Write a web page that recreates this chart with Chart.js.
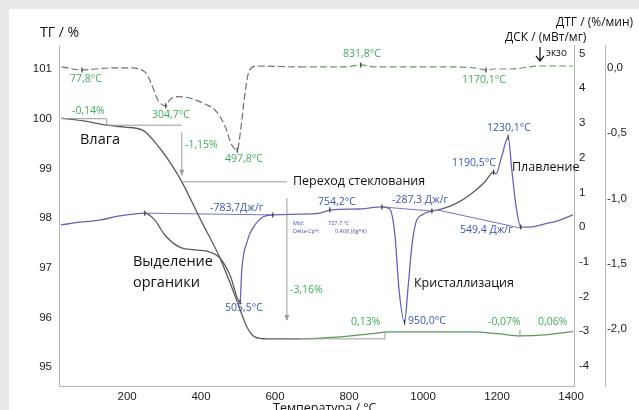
<!DOCTYPE html>
<html lang="ru">
<head>
<meta charset="utf-8">
<title>ТГ / ДТГ / ДСК</title>
<script src="https://cdn.jsdelivr.net/npm/chart.js@4.4.1/dist/chart.umd.min.js"></script>
<style>
  html, body { margin: 0; padding: 0; background: #e9e9e9; }
  #wrap { width: 639px; height: 410px; }
</style>
</head>
<body>
<div id="wrap"><canvas id="chart" width="639" height="410"></canvas></div>
<script>
// --- Datos ---
const xTicks = [200, 400, 600, 800, 1000, 1200, 1400];
const tgTicks = [95, 96, 97, 98, 99, 100, 101];
const dscTicks = [-4, -3, -2, -1, 0, 1, 2, 3, 4, 5];
const dtgTicks = [-2.0, -1.5, -1.0, -0.5, 0.0];

// ТГ, %
const tgTemp  = [23, 86, 145, 194, 242, 288, 324, 348, 402, 451, 486, 499, 524, 545, 578, 667, 775, 856, 910, 1127, 1208, 1262, 1329, 1397, 1405];
const tgValue = [100.01, 99.95, 99.87, 99.83, 99.77, 99.41, 99.03, 98.73, 97.92, 97.20, 96.55, 96.29, 95.81, 95.61, 95.57, 95.57, 95.61, 95.67, 95.71, 95.71, 95.67, 95.63, 95.65, 95.71, 95.72];

// ДТГ, %/мин
const dtgTemp  = [23, 78, 113, 153, 207, 248, 267, 283, 304.7, 315, 334, 369, 410, 437, 464, 483, 497.8, 507, 518, 531, 553, 667, 789, 831.8, 870, 1072, 1140, 1170.1, 1194, 1235, 1316, 1405];
const dtgValue = [0.008, -0.015, -0.008, 0, 0, -0.03, -0.13, -0.245, -0.29, -0.245, -0.22, -0.23, -0.276, -0.32, -0.44, -0.59, -0.63, -0.475, -0.21, -0.015, 0.015, 0.008, 0.008, 0.023, 0.008, 0.008, 0, -0.015, -0.008, -0.008, 0.015, 0.015];

// ДСК, мВт/мг
const dscTemp  = [21, 72, 126, 180, 248, 275, 302, 342, 383, 424, 451, 478, 505.5, 510, 526, 540, 567, 594, 667, 721, 748, 829, 889, 910, 924, 935, 950, 959, 970, 981, 997, 1024, 1051, 1091, 1127, 1167, 1190.5, 1197, 1213, 1230.1, 1240, 1251, 1264, 1289, 1329, 1370, 1405];
const dscValue = [0.06, 0.14, 0.20, 0.32, 0.40, 0.20, -0.23, -0.58, -0.66, -0.72, -0.89, -1.38, -2.16, -1.24, -0.37, -0.03, 0.29, 0.35, 0.37, 0.40, 0.49, 0.52, 0.58, 0.52, -0.23, -1.8, -2.74, -1.8, -0.52, 0.14, 0.35, 0.46, 0.52, 0.69, 0.93, 1.30, 1.58, 1.53, 2.05, 2.59, 1.64, 0.63, 0.0, 0.0, 0.09, 0.20, 0.35];

// Базовые линии интегрирования ДСК
const base1Temp = [248, 594];    const base1Value = [0.40, 0.35];
const base2Temp = [889, 1024];   const base2Value = [0.58, 0.46];
const base3Temp = [1040, 1264];  const base3Value = [0.49, -0.03];

// Отмеченные точки
const dscMarks = [248, 505.5, 594, 748, 889, 950, 1024, 1190.5, 1230.1, 1264];
const dtgMarks = [78, 304.7, 497.8, 831.8, 1170.1];
const dscGrayRanges = [[248, 505.5], [1051, 1190.5]];

// Ступени ТГ: [T1, T2, %1, %2]
const tgHLines = [[23, 145, 100.0, 100.0], [145, 348, 99.87, 99.87], [348, 632, 98.73, 98.73], [632, 897, 95.57, 95.57]];
const tgVLines = [[145, 145, 100.0, 99.87], [897, 897, 95.57, 95.71], [1262, 1262, 95.61, 95.75]];
const tgArrows = [[348, 348, 99.73, 98.87], [632, 632, 98.40, 95.95]];

// --- Estilos ---
const GRAY = '#5c5c5c';
const BLUE = '#6464b8';
const GREEN_LINE = '#5a9a55';
const GREEN_TXT = '#3fac5c';
const BLUE_TXT = '#3b56b2';
const AXIS = '#b4b4b4';
const FONT = "'Open Sans', 'Noto Sans', sans-serif";

// Надписи: [текст, x, y, цвет, размер]
const notes = [
  ['77,8°C', 70, 79, GREEN_TXT, 10.5],
  ['-0,14%', 72, 111, GREEN_TXT, 10.5],
  ['304,7°C', 152, 115, GREEN_TXT, 10.5],
  ['-1,15%', 185, 145, GREEN_TXT, 10.5],
  ['497,8°C', 225, 159, GREEN_TXT, 10.5],
  ['831,8°C', 343, 54, GREEN_TXT, 10.5],
  ['1170,1°C', 462, 80, GREEN_TXT, 10.5],
  ['-3,16%', 290, 290, GREEN_TXT, 10.5],
  ['0,13%', 351, 322, GREEN_TXT, 10.5],
  ['-0,07%', 488, 322, GREEN_TXT, 10.5],
  ['0,06%', 538, 322, GREEN_TXT, 10.5],
  ['-783,7Дж/г', 210, 208, BLUE_TXT, 10.5],
  ['754,2°C', 318, 202, BLUE_TXT, 10.5],
  ['-287,3 Дж/г', 392, 200, BLUE_TXT, 10.5],
  ['1190,5°C', 452, 163, BLUE_TXT, 10.5],
  ['1230,1°C', 487, 128, BLUE_TXT, 10.5],
  ['549,4 Дж/г', 460, 230, BLUE_TXT, 10.5],
  ['505,5°C', 225, 308, BLUE_TXT, 10.5],
  ['950,0°C', 408, 321, BLUE_TXT, 10.5],
  ['Mid:', 293, 223, BLUE_TXT, 5.5],
  ['727.7 °C', 328, 223, BLUE_TXT, 5.5],
  ['Delta-Cp*:', 293, 231, BLUE_TXT, 5.5],
  ['0.408 J/(g*K)', 335, 231, BLUE_TXT, 5.5],
  ['ТГ / %', 40, 33, '#111', 14],
  ['Влага', 80, 140, '#111', 14.5],
  ['Переход стеклования', 293, 181, '#111', 12.5],
  ['Выделение', 133, 262, '#111', 14.5],
  ['органики', 133, 283, '#111', 14.5],
  ['Кристаллизация', 414, 283, '#111', 12.5],
  ['Плавление', 512, 167, '#111', 12.5],
  ['ДТГ / (%/мин)', 556, 23, '#111', 12],
  ['ДСК / (мВт/мг)', 505, 38, '#111', 12],
  ['экзо', 546, 53, '#111', 10],
  ['Температура / °С', 273, 408, '#111', 12.5]
];

function toPoints(xs, ys) {
  return xs.map((x, i) => ({ x: x, y: ys[i] }));
}

function inRanges(t, ranges) {
  return ranges.some(r => t >= r[0] && t < r[1]);
}

function fixTicks(list) {
  return scale => { scale.ticks = list.map(v => ({ value: v })); };
}

const tickFont = { family: "'Liberation Sans', Arial, sans-serif", size: 11.5 };
const noGrid = { display: false, drawTicks: false };

// --- Plugin de dibujo ---
const sketchPlugin = {
  id: 'sketch',
  beforeDraw(chart) {
    const ctx = chart.ctx;
    ctx.save();
    ctx.fillStyle = '#e9e9e9';
    ctx.fillRect(0, 0, chart.width, chart.height);
    ctx.fillStyle = '#ffffff';
    ctx.fillRect(9, 9, chart.width - 9, chart.height - 9);
    ctx.restore();
  },
  afterDatasetsDraw(chart) {
    const ctx = chart.ctx;
    const x = chart.scales.x;
    const y = chart.scales.yTG;
    const seg = s => [x.getPixelForValue(s[0]), y.getPixelForValue(s[2]), x.getPixelForValue(s[1]), y.getPixelForValue(s[3])];

    ctx.save();
    ctx.strokeStyle = '#9a9a9a';
    ctx.lineWidth = 1;
    tgHLines.concat(tgVLines, tgArrows).forEach(s => {
      const p = seg(s);
      ctx.beginPath();
      ctx.moveTo(p[0], p[1]);
      ctx.lineTo(p[2], p[3]);
      ctx.stroke();
    });
    ctx.fillStyle = '#9a9a9a';
    tgArrows.forEach(s => {
      const p = seg(s);
      ctx.beginPath();
      ctx.moveTo(p[2], p[3] + 1);
      ctx.lineTo(p[2] - 2.5, p[3] - 5);
      ctx.lineTo(p[2] + 2.5, p[3] - 5);
      ctx.closePath();
      ctx.fill();
    });

    // Стрелка "экзо"
    ctx.strokeStyle = '#222';
    ctx.lineWidth = 1.3;
    ctx.beginPath();
    ctx.moveTo(540, 47);
    ctx.lineTo(540, 61);
    ctx.moveTo(536, 56);
    ctx.lineTo(540, 61);
    ctx.lineTo(544, 56);
    ctx.stroke();

    // Надписи
    ctx.textBaseline = 'middle';
    ctx.textAlign = 'left';
    notes.forEach(n => {
      ctx.fillStyle = n[3];
      ctx.font = n[4] + 'px ' + FONT;
      ctx.fillText(n[0], n[1], n[2]);
    });
    ctx.restore();
  }
};

// --- Gráfico ---
function renderChart() {
  const ctx = document.getElementById('chart').getContext('2d');
  const markStyle = marks => ({
    pointStyle: 'line',
    rotation: 90,
    pointRadius: c => (c.raw && marks.includes(c.raw.x)) ? 2.5 : 0,
    pointBorderColor: '#333',
    pointBorderWidth: 1.2,
    pointHoverRadius: 0
  });

  new Chart(ctx, {
    type: 'line',
    data: {
      datasets: [
        {
          label: 'ТГ',
          data: toPoints(tgTemp, tgValue),
          yAxisID: 'yTG',
          borderColor: GRAY,
          borderWidth: 1.3,
          pointRadius: 0,
          cubicInterpolationMode: 'monotone',
          segment: { borderColor: c => c.p0.parsed.x >= 620 ? GREEN_LINE : GRAY }
        },
        Object.assign({
          label: 'ДТГ',
          data: toPoints(dtgTemp, dtgValue),
          yAxisID: 'yDTG',
          borderColor: '#707070',
          borderWidth: 1.2,
          borderDash: [7, 3],
          cubicInterpolationMode: 'monotone',
          segment: { borderColor: c => c.p0.parsed.x >= 600 ? '#6a9a66' : '#707070' }
        }, markStyle(dtgMarks)),
        Object.assign({
          label: 'ДСК',
          data: toPoints(dscTemp, dscValue),
          yAxisID: 'yDSC',
          borderColor: BLUE,
          borderWidth: 1.3,
          cubicInterpolationMode: 'monotone',
          segment: { borderColor: c => inRanges(c.p0.parsed.x, dscGrayRanges) ? GRAY : BLUE }
        }, markStyle(dscMarks)),
        { data: toPoints(base1Temp, base1Value), yAxisID: 'yDSC', borderColor: '#7474bc', borderWidth: 1, pointRadius: 0 },
        { data: toPoints(base2Temp, base2Value), yAxisID: 'yDSC', borderColor: '#7474bc', borderWidth: 1, pointRadius: 0 },
        { data: toPoints(base3Temp, base3Value), yAxisID: 'yDSC', borderColor: '#7474bc', borderWidth: 1, pointRadius: 0 }
      ]
    },
    options: {
      responsive: false,
      animation: false,
      devicePixelRatio: 1,
      layout: { padding: { top: 45, left: 0, right: 0, bottom: 0 } },
      plugins: {
        legend: { display: false },
        tooltip: { enabled: false }
      },
      scales: {
        x: {
          type: 'linear',
          min: 16,
          max: 1408,
          afterBuildTicks: fixTicks(xTicks),
          afterFit: s => { s.height = 24; },
          grid: noGrid,
          border: { color: AXIS },
          ticks: { font: tickFont, color: '#222', padding: 4, maxRotation: 0, callback: v => String(v) }
        },
        yTG: {
          position: 'left',
          min: 94.622,
          max: 101.483,
          afterBuildTicks: fixTicks(tgTicks),
          afterFit: s => { s.width = 59; },
          grid: noGrid,
          border: { color: AXIS },
          ticks: { font: tickFont, color: '#222', padding: 7 }
        },
        yDSC: {
          position: 'right',
          weight: 0,
          min: -4.58,
          max: 5.245,
          afterBuildTicks: fixTicks(dscTicks),
          afterFit: s => { s.width = 31; },
          grid: noGrid,
          border: { color: AXIS },
          ticks: { font: tickFont, color: '#222', padding: 5 }
        },
        yDTG: {
          position: 'right',
          weight: 1,
          min: -2.437,
          max: 0.176,
          afterBuildTicks: fixTicks(dtgTicks),
          afterFit: s => { s.width = 34; },
          grid: noGrid,
          border: { color: AXIS },
          ticks: {
            font: tickFont,
            color: '#222',
            padding: 2,
            callback: v => v.toFixed(1).replace('.', ',')
          }
        }
      }
    },
    plugins: [sketchPlugin]
  });
}

// --- Inicialización ---
window.onload = renderChart;
</script>
</body>
</html>
